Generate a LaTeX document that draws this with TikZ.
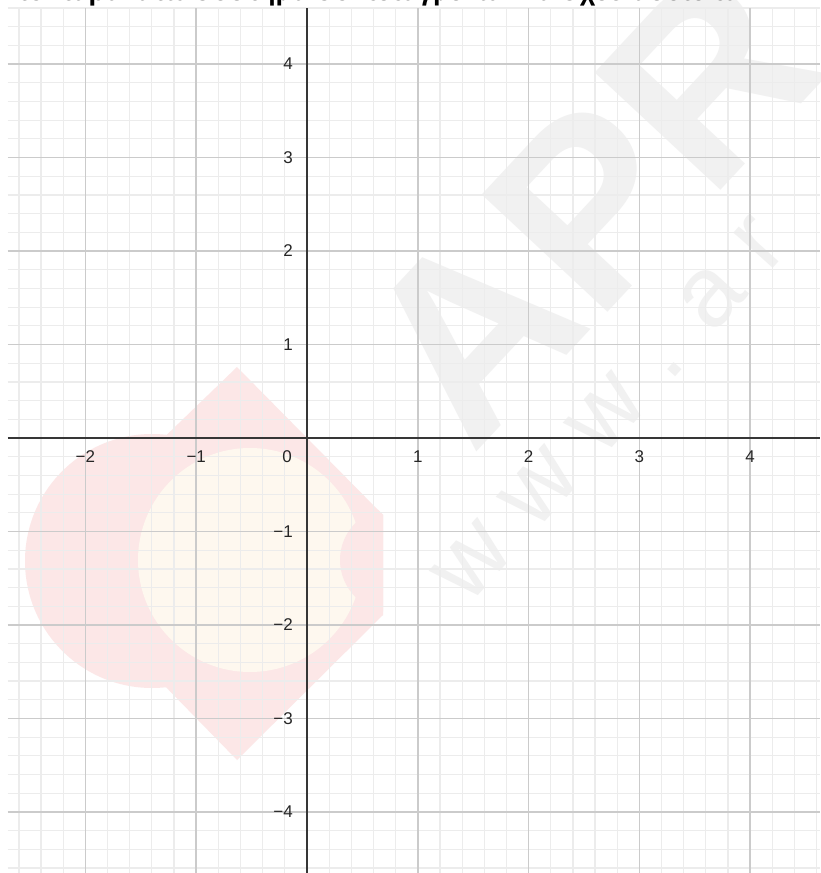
\documentclass[tikz,border=0pt]{standalone}
\usepackage{fontspec}
\setmainfont{Liberation Sans}
\definecolor{minorc}{HTML}{ECECEC}
\definecolor{majorc}{HTML}{CBCBCB}
\definecolor{axisc}{HTML}{363636}
\definecolor{wmgray}{HTML}{F1F1F1}
\definecolor{wmpink}{HTML}{FCE7E7}
\definecolor{wmcream}{HTML}{FEF8EF}
\begin{document}
\begin{tikzpicture}[x=110.8pt,y=93.5pt,
  minorline/.style={draw=minorc,line width=1.2pt},
  majorline/.style={draw=majorc,line width=1.6pt},
  axisline/.style={draw=axisc,line width=2pt},
  ticklbl/.style={font=\fontsize{17}{20}\selectfont,text=black!85,inner sep=0pt},
  px/.style={shift={(-307pt,438pt)},x=1pt,y=-1pt}]
\useasboundingbox (-2.7708,-4.6524) rectangle (4.6300,4.6845);
\clip (-2.7708,-4.6524) rectangle (4.6300,4.6845);
\fill[white] (-2.7708,-4.6524) rectangle (4.6300,4.6845);
% watermark
\begin{scope}[px]
  \fill[wmpink] (152,561) circle (127);
  \fill[wmpink] (237,367) -- (383,515) -- (383,615) -- (237,760) -- (120,640) -- (120,480) -- cycle;
  \fill[wmcream] (250,560) circle (112);
  \begin{scope}
    \clip (237,367) -- (383,515) -- (383,615) -- (237,760) -- (120,640) -- (120,480) -- cycle;
    \fill[wmpink] (392,560) circle (52);
  \end{scope}
  \node[rotate=47,font=\fontsize{250}{250}\selectfont\bfseries,text=wmgray,inner sep=0pt] (apr) at (590,205) {APR};
  \node[rotate=48,font=\fontsize{100}{100}\selectfont,text=wmgray,inner sep=0pt] (www) at (610,410) {w w w . a r};
  % cut-off title
  \node[anchor=base west,font=\fontsize{27}{30}\selectfont\bfseries,inner sep=0pt] (title) at (52,1) {\llap{Στο }παρακάτω σύστημα συντεταγμένων να σχεδιάσετε τα};
\end{scope}
% grid
\draw[minorline] (-2.7,-4.6524) grid[step=0.2] (4.63,4.6);
\draw[majorline] (-2.7,-4.6524) grid[step=1] (4.63,4.6);
% axes
\coordinate (xl) at (-2.7,0);
\coordinate (xr) at (4.63,0);
\coordinate (yb) at (0,-4.6524);
\coordinate (yt) at (0,4.6);
\draw[axisline] (xl) -- (xr);
\draw[axisline] (yb) -- (yt);
% x labels
\foreach \i/\t in {-2/−2,-1/−1,1/1,2/2,3/3,4/4}
  \node[ticklbl,yshift=-19pt] (x\i) at (\i,0) {\t};
\node[ticklbl,xshift=-20pt,yshift=-19pt] (o) at (0,0) {0};
% y labels
\foreach \j/\t in {-4/−4,-3/−3,-2/−2,-1/−1,1/1,2/2,3/3,4/4}
  \node[ticklbl,anchor=east,xshift=-14pt] (y\j) at (0,\j) {\t};
\end{tikzpicture}
\end{document}
